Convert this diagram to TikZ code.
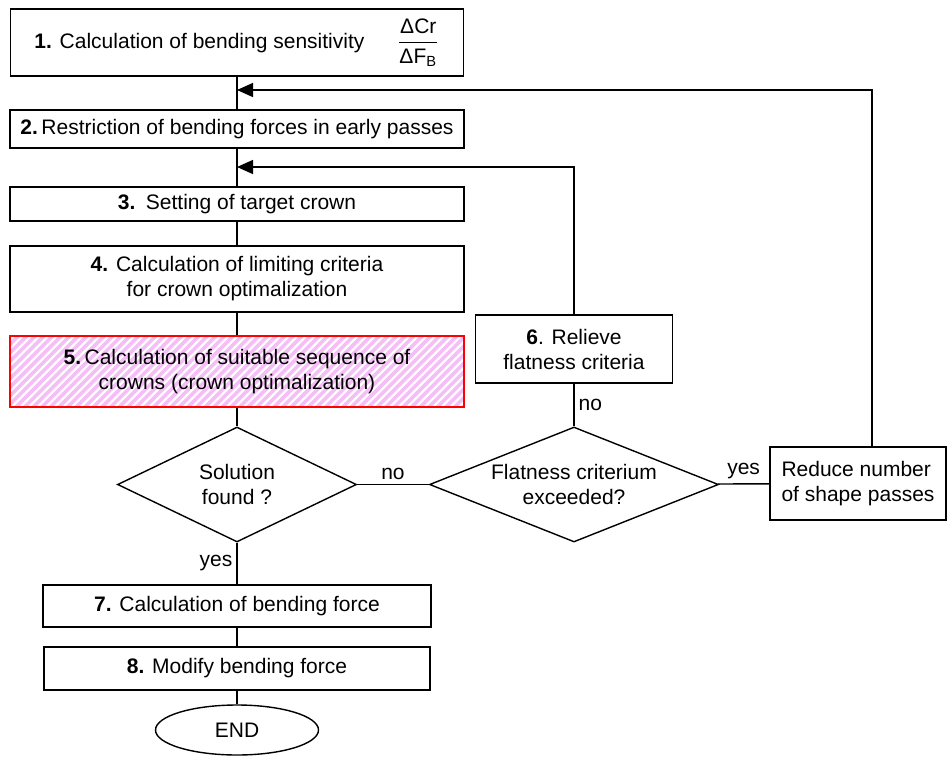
\documentclass[tikz,border=0pt]{standalone}
\usepackage{fontspec}
\setmainfont{Liberation Sans}
\usepackage{amsmath}
\usepackage{tikz}
\usetikzlibrary{shapes.geometric,arrows.meta,positioning,backgrounds}
\definecolor{stripepink}{RGB}{246,190,246}
\tikzset
{
    process/.style  = {rectangle, draw=black, align=center, inner sep=2pt},
    decision/.style = {diamond, draw=black, align=center, aspect=2.5, inner sep=0pt},
    terminal/.style = {ellipse, draw=black, align=center, inner sep=0pt},
    arrow/.style    = {-{Triangle[length=8pt,width=7pt]}},
    stripe/.style   = {stripepink, line width=1.8pt},
    answer/.style   = {inner sep=2pt}
}

\begin{document}
\begin{tikzpicture}[x=0.5pt, y=-0.5pt, line width=0.7pt, font=\fontsize{10.5}{12.5}\selectfont]
   \newcommand\MAINX{237}
   \newcommand\SIDEX{574}
   \useasboundingbox (0,0) rectangle (948,756);

   \node (s1)  [process, minimum width=226.5pt, minimum height=33.5pt]  at (\MAINX, 42.5)  {\textbf{1.} Calculation of bending sensitivity\quad\; $\dfrac{\text{ΔCr}}{\text{ΔF\textsubscript{B}}}$};
   \node (s2)  [process, minimum width=227pt, minimum height=19pt]      at (\MAINX, 129)   {\textbf{2.}\,Restriction of bending forces in early passes};
   \node (s3)  [process, minimum width=227pt, minimum height=17pt]      at (\MAINX, 204)   {\textbf{3.}\enspace Setting of target crown};
   \node (s4)  [process, minimum width=227pt, minimum height=33pt]      at (\MAINX, 279)   {\textbf{4.} Calculation of limiting criteria \\ for crown optimalization};
   \node (s5)  [process, draw=red, minimum width=227pt, minimum height=35.5pt] at (\MAINX, 371.5) {\textbf{5.}\,Calculation of suitable sequence of \\ crowns (crown optimalization)};
   \node (d1)  [decision, minimum width=119.5pt, minimum height=57.5pt] at (\MAINX, 484.5) {Solution \\ found ?};
   \node (d2)  [decision, minimum width=144.5pt, minimum height=57.5pt] at (\SIDEX, 484.5) {Flatness criterium \\ exceeded?};
   \node (s6)  [process, minimum width=98.5pt, minimum height=34pt]     at (\SIDEX, 349)   {\textbf{6}. Relieve \\ flatness criteria};
   \node (rd)  [process, align=left, minimum width=88pt, minimum height=36.5pt] at (858, 483.5) {Reduce number \\ of shape passes};
   \node (s7)  [process, minimum width=194pt, minimum height=21pt]      at (\MAINX, 606)   {\textbf{7.} Calculation of bending force};
   \node (s8)  [process, minimum width=193pt, minimum height=21.5pt]    at (\MAINX, 668.5) {\textbf{8.} Modify bending force};
   \node (end) [terminal, minimum width=81.5pt, minimum height=25pt]    at (\MAINX, 730)   {END};

   \coordinate (j1) at (\MAINX, 90);
   \coordinate (j2) at (\MAINX, 167);

   % hatching of step 5
   \begin{scope}[on background layer]
      \clip (s5.south west) rectangle (s5.north east);
      \foreach \k in {0,...,62}
         \draw[stripe] ([xshift=\k*4.3pt-40pt]s5.south west) -- ++(90,-90);
   \end{scope}

   \path
      (s1)  edge (s2)
      (s2)  edge (s3)
      (s3)  edge (s4)
      (s4)  edge (s5)
      (s5)  edge (d1)
      (d1)  edge node[answer, left]  {yes} (s7)
      (s7)  edge (s8)
      (s8)  edge (end)
      (d1)  edge node[answer, above] {no}  (d2)
      (d2)  edge node[answer, above] {yes} (rd)
      (d2)  edge node[answer, right] {no}  (s6);

   \draw[arrow] ([xshift=7pt]rd.north) |- (j1);
   \draw[arrow] (s6) |- (j2);
\end{tikzpicture}
\end{document}
